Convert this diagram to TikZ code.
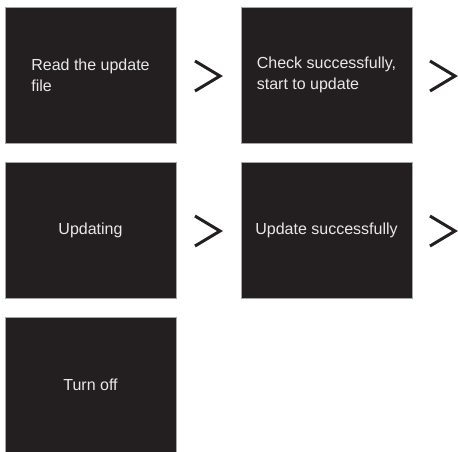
\documentclass[tikz,border=0pt]{standalone}
\usepackage{fontspec}
\setmainfont{Liberation Sans}
\definecolor{boxfill}{HTML}{231F20}
\definecolor{boxtext}{HTML}{E8E8E8}
\definecolor{chev}{HTML}{231F20}
\begin{document}
\begin{tikzpicture}[x=1pt,y=-1pt,
  stepbox/.style={fill=boxfill,draw=gray!70,line width=0.4pt,text=boxtext,
    minimum width=171pt,minimum height=136pt,inner sep=0pt,align=left,
    font=\fontsize{16}{21}\selectfont},
  chevron/.style={draw=chev,line width=3pt,line join=miter,line cap=butt}]
\useasboundingbox (0,0) rectangle (458,451);
\node[stepbox] (b1) at (90.5,75) {Read the update\hspace{6pt}\\file};
\node[stepbox] (b2) at (326.5,75) {Check successfully,\\start to update};
\node[stepbox] (b3) at (90.5,230) {Updating};
\node[stepbox] (b4) at (326.5,230) {Update successfully};
\node[stepbox] (b5) at (90.5,385) {Turn off};
\draw[chevron] (195,61) -- (220,76) -- (195,91);
\draw[chevron] (430,61) -- (455,76) -- (430,91);
\draw[chevron] (195,216) -- (220,231) -- (195,246);
\draw[chevron] (430,216) -- (455,231) -- (430,246);
\end{tikzpicture}
\end{document}
